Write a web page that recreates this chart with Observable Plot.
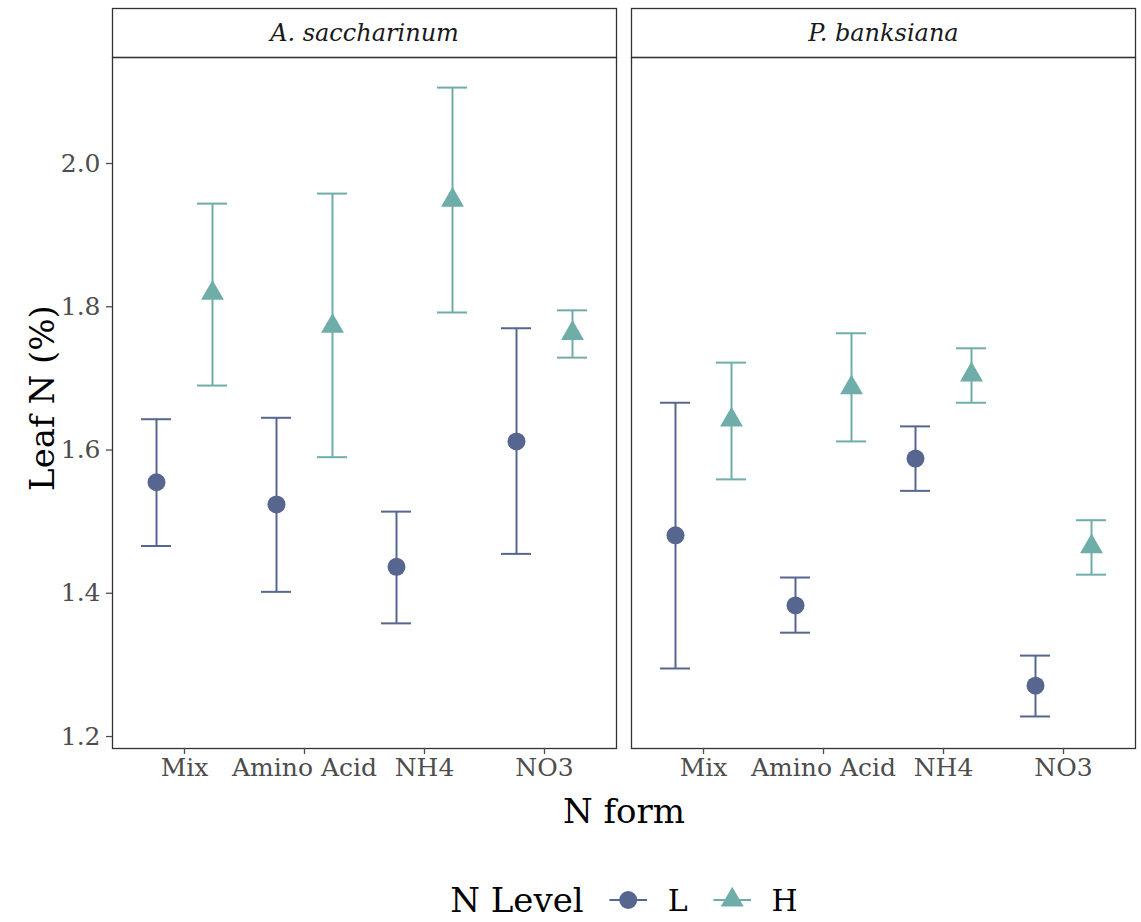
<!DOCTYPE html>
<html>
<head>
<meta charset="utf-8">
<script src="https://cdn.jsdelivr.net/npm/d3@7"></script>
<script src="https://cdn.jsdelivr.net/npm/@observablehq/plot@0.6"></script>
<style>
  html, body { margin: 0; padding: 0; background: #fff; }
  #wrap { position: relative; width: 1141px; height: 922px; font-family: "DejaVu Serif", serif; }
  #chart svg { overflow: visible; display: block; }
  .lbl { position: absolute; color: #000; font-size: 34px; white-space: nowrap; line-height: 1; }
  #ylab { left: 42px; top: 398px; transform: translate(-50%, -50%) rotate(-90deg); }
  #xlab { left: 624px; top: 811px; transform: translate(-50%, -50%); }
  #legend { position: absolute; left: 624px; top: 900px; transform: translate(-50%, -50%); display: flex; align-items: center; white-space: nowrap; font-size: 34px; }
  #legend .key { display: flex; align-items: center; margin-left: 26px; }
  #legend .key span { font-size: 30px; margin-left: 20px; }
</style>
</head>
<body>
<div id="wrap">
  <div id="chart"></div>
  <div class="lbl" id="ylab">Leaf N (%)</div>
  <div class="lbl" id="xlab">N form</div>
  <div id="legend"></div>
</div>
<script>
const species = ["A. saccharinum", "P. banksiana"];
const forms = ["Mix", "Amino Acid", "NH4", "NO3"];
const levels = ["L", "H"];
const levelColors = ["#56668f", "#6fada9"];
const yTicks = [1.2, 1.4, 1.6, 1.8, 2.0];

// A. saccharinum
const acerL_mean = [1.555, 1.524, 1.437, 1.612];
const acerL_lo   = [1.466, 1.402, 1.358, 1.455];
const acerL_hi   = [1.643, 1.645, 1.514, 1.770];
const acerH_mean = [1.819, 1.773, 1.949, 1.763];
const acerH_lo   = [1.690, 1.590, 1.792, 1.729];
const acerH_hi   = [1.944, 1.958, 2.106, 1.795];
// P. banksiana
const pinusL_mean = [1.481, 1.383, 1.588, 1.271];
const pinusL_lo   = [1.295, 1.345, 1.543, 1.228];
const pinusL_hi   = [1.666, 1.422, 1.633, 1.313];
const pinusH_mean = [1.642, 1.687, 1.705, 1.465];
const pinusH_lo   = [1.559, 1.612, 1.666, 1.426];
const pinusH_hi   = [1.722, 1.763, 1.742, 1.502];

const series = [
  [species[0], "L", acerL_mean, acerL_lo, acerL_hi],
  [species[0], "H", acerH_mean, acerH_lo, acerH_hi],
  [species[1], "L", pinusL_mean, pinusL_lo, pinusL_hi],
  [species[1], "H", pinusH_mean, pinusH_lo, pinusH_hi]
];
const rows = [];
for (const [sp, lv, m, lo, hi] of series) {
  forms.forEach((f, i) => rows.push({species: sp, level: lv, form: f, mean: m[i], lo: lo[i], hi: hi[i]}));
}

const font = "DejaVu Serif";
const marks = [];
// strips
marks.push(Plot.frame({insetTop: -49, insetBottom: 691, fill: "#fff", stroke: "#333", strokeWidth: 1.3}));
marks.push(Plot.text(species, {fx: d => d, text: d => d, frameAnchor: "top", lineAnchor: "middle", dy: -24, fontStyle: "italic", fontSize: 24, fill: "#1a1a1a"}));
// panel frame
marks.push(Plot.frame({stroke: "#333", strokeWidth: 1.3}));

levels.forEach((lv, k) => {
  const data = rows.filter(r => r.level === lv);
  const dx = k === 0 ? -28 : 28;
  const c = levelColors[k];
  marks.push(Plot.ruleX(data, {fx: "species", x: "form", y1: "lo", y2: "hi", stroke: c, strokeWidth: 2, dx}));
  marks.push(Plot.tickY(data, {fx: "species", x: "form", y: "lo", stroke: c, strokeWidth: 2, dx}));
  marks.push(Plot.tickY(data, {fx: "species", x: "form", y: "hi", stroke: c, strokeWidth: 2, dx}));
  marks.push(Plot.dot(data, {fx: "species", x: "form", y: "mean", fill: c, stroke: "none", symbol: k === 0 ? "circle" : "triangle", r: k === 0 ? 9 : 8.5, dx}));
});

marks.push(Plot.axisX({tickSize: 6, tickPadding: 4, fontSize: 25, color: "#4d4d4d", label: null, strokeWidth: 1.3}));
marks.push(Plot.axisY({ticks: yTicks, tickFormat: d3.format(".1f"), tickSize: 6, tickPadding: 6, fontSize: 25, color: "#4d4d4d", label: null, strokeWidth: 1.3}));

const chart = Plot.plot({
  width: 1141,
  height: 800,
  marginLeft: 112,
  marginRight: 5,
  marginTop: 57,
  marginBottom: 52,
  style: {fontFamily: font, background: "#fff"},
  fx: {domain: species, paddingInner: 0.0289, paddingOuter: 0, axis: null, label: null},
  x: {type: "band", domain: forms, paddingInner: 0.75, paddingOuter: 0.475, label: null},
  y: {domain: [1.1833, 2.148], label: null},
  marks
});
document.getElementById("chart").appendChild(chart);

// legend
const legend = document.getElementById("legend");
const title = document.createElement("span");
title.textContent = "N Level";
legend.appendChild(title);
levels.forEach((lv, k) => {
  const key = document.createElement("div");
  key.className = "key";
  const svg = d3.create("svg").attr("width", 38).attr("height", 30);
  svg.append("line").attr("x1", 0).attr("x2", 38).attr("y1", 15).attr("y2", 15).attr("stroke", levelColors[k]).attr("stroke-width", 2);
  const sym = k === 0 ? d3.symbolCircle : d3.symbolTriangle;
  const size = k === 0 ? Math.PI * 81 : Math.PI * 8.5 * 8.5;
  svg.append("path").attr("d", d3.symbol(sym, size)()).attr("transform", "translate(19,15)").attr("fill", levelColors[k]);
  key.appendChild(svg.node());
  const s = document.createElement("span");
  s.textContent = lv;
  key.appendChild(s);
  legend.appendChild(key);
});
</script>
</body>
</html>
